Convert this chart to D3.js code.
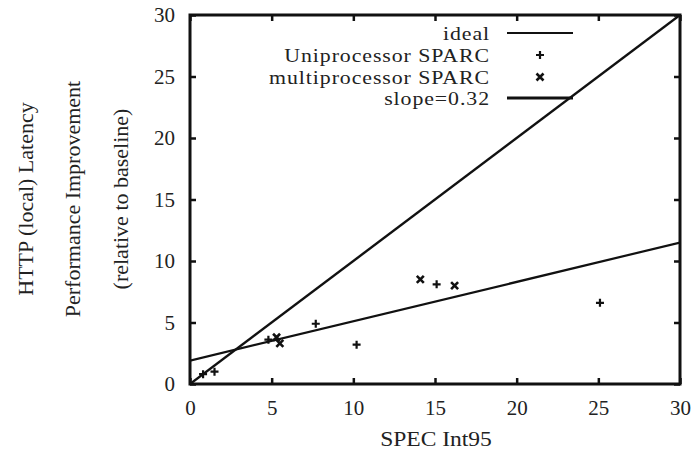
<!DOCTYPE html>
<html>
<head>
<meta charset="utf-8">
<script src="https://cdn.jsdelivr.net/npm/d3@7"></script>
<style>
  body { margin: 0; background: #fff; }
  text { font-family: "Liberation Serif", "DejaVu Serif", serif; fill: #222; }
</style>
</head>
<body>
<div id="chart"></div>
<script>
// data
const uniX = [0.8, 1.5, 4.8, 7.7, 10.2, 15.1, 25.1];
const uniY = [0.8, 1.0, 3.6, 4.9, 3.2, 8.1, 6.6];
const multiX = [5.3, 5.5, 14.1, 16.2];
const multiY = [3.8, 3.3, 8.5, 8.0];
const ticks = [0, 5, 10, 15, 20, 25, 30];
const slope = 0.32, intercept = 1.9;
const legendLabels = ["ideal", "Uniprocessor SPARC", "multiprocessor SPARC", "slope=0.32"];

const width = 694, height = 452;
const plotL = 190, plotR = 680, plotT = 15, plotB = 384;

const svg = d3.select("#chart").append("svg")
    .attr("width", width)
    .attr("height", height);

const x = d3.scaleLinear().domain([0, 30]).range([plotL, plotR]);
const y = d3.scaleLinear().domain([0, 30]).range([plotB, plotT]);

//clip
svg.append("defs").append("clipPath").attr("id", "clip")
    .append("rect").attr("x", plotL).attr("y", plotT)
    .attr("width", plotR - plotL).attr("height", plotB - plotT);

//ticks on all four sides, pointing in
const tickLen = 6;
const axisStyle = g => {
    g.select(".domain").remove();
    g.selectAll("line").attr("stroke", "#111").attr("stroke-width", 2.5);
    g.selectAll("text").attr("font-size", "21px").attr("fill", "#222");
};
svg.append("g").attr("transform", `translate(0,${plotB})`)
    .call(d3.axisBottom(x).tickValues(ticks).tickSizeInner(-tickLen).tickPadding(16))
    .call(axisStyle);
svg.append("g").attr("transform", `translate(${plotL},0)`)
    .call(d3.axisLeft(y).tickValues(ticks).tickSizeInner(-tickLen).tickPadding(15))
    .call(axisStyle);
svg.append("g").attr("transform", `translate(0,${plotT})`)
    .call(d3.axisTop(x).tickValues(ticks).tickSizeInner(-tickLen).tickFormat(""))
    .call(axisStyle);
svg.append("g").attr("transform", `translate(${plotR},0)`)
    .call(d3.axisRight(y).tickValues(ticks).tickSizeInner(-tickLen).tickFormat(""))
    .call(axisStyle);

//frame
svg.append("rect")
    .attr("x", plotL).attr("y", plotT)
    .attr("width", plotR - plotL).attr("height", plotB - plotT)
    .attr("fill", "none").attr("stroke", "#111").attr("stroke-width", 3);

const plot = svg.append("g").attr("clip-path", "url(#clip)");

//ideal line
plot.append("line")
    .attr("x1", x(0)).attr("y1", y(0))
    .attr("x2", x(30)).attr("y2", y(30))
    .attr("stroke", "#111").attr("stroke-width", 2.4);

//fit line
plot.append("line")
    .attr("x1", x(0)).attr("y1", y(intercept))
    .attr("x2", x(30)).attr("y2", y(intercept + slope * 30))
    .attr("stroke", "#111").attr("stroke-width", 2.2);

//markers
const plus = (g, cx, cy, s) => g.append("path")
    .attr("d", `M${cx - s},${cy}H${cx + s}M${cx},${cy - s}V${cy + s}`)
    .attr("stroke", "#111").attr("stroke-width", 2.2).attr("fill", "none");
const cross = (g, cx, cy, s) => g.append("path")
    .attr("d", `M${cx - s},${cy - s}L${cx + s},${cy + s}M${cx - s},${cy + s}L${cx + s},${cy - s}`)
    .attr("stroke", "#111").attr("stroke-width", 2.6).attr("fill", "none");

uniX.forEach((v, i) => plus(plot, x(v), y(uniY[i]), 4));
multiX.forEach((v, i) => cross(plot, x(v), y(multiY[i]), 3.5));

//legend
const legX = 490, sx1 = 507, sx2 = 573, rowY = [33, 55, 77, 98];
legendLabels.forEach((t, i) => {
    svg.append("text")
        .attr("transform", `translate(${legX},${rowY[i]}) scale(1.15,1)`)
        .attr("dy", "0.35em")
        .attr("text-anchor", "end")
        .attr("font-size", "19px")
        .attr("letter-spacing", "0.8px")
        .text(t);
});
svg.append("line").attr("x1", sx1).attr("x2", sx2).attr("y1", rowY[0]).attr("y2", rowY[0])
    .attr("stroke", "#111").attr("stroke-width", 2);
plus(svg, (sx1 + sx2) / 2, rowY[1], 4);
cross(svg, (sx1 + sx2) / 2, rowY[2], 3.5);
svg.append("line").attr("x1", sx1).attr("x2", sx2).attr("y1", rowY[3]).attr("y2", rowY[3])
    .attr("stroke", "#111").attr("stroke-width", 3.2);

//axis titles
svg.append("text")
    .attr("transform", "translate(436,446) scale(1.07,1)")
    .attr("text-anchor", "middle")
    .attr("font-size", "22px")
    .text("SPEC Int95");

const yTitles = [["HTTP (local) Latency", 25], ["Performance Improvement", 72], ["(relative to baseline)", 120]];
yTitles.forEach(([t, cx]) => {
    svg.append("text")
        .attr("transform", `translate(${cx},199) rotate(-90)`)
        .attr("dy", "0.35em")
        .attr("text-anchor", "middle")
        .attr("font-size", "22px")
        .text(t);
});
</script>
</body>
</html>
